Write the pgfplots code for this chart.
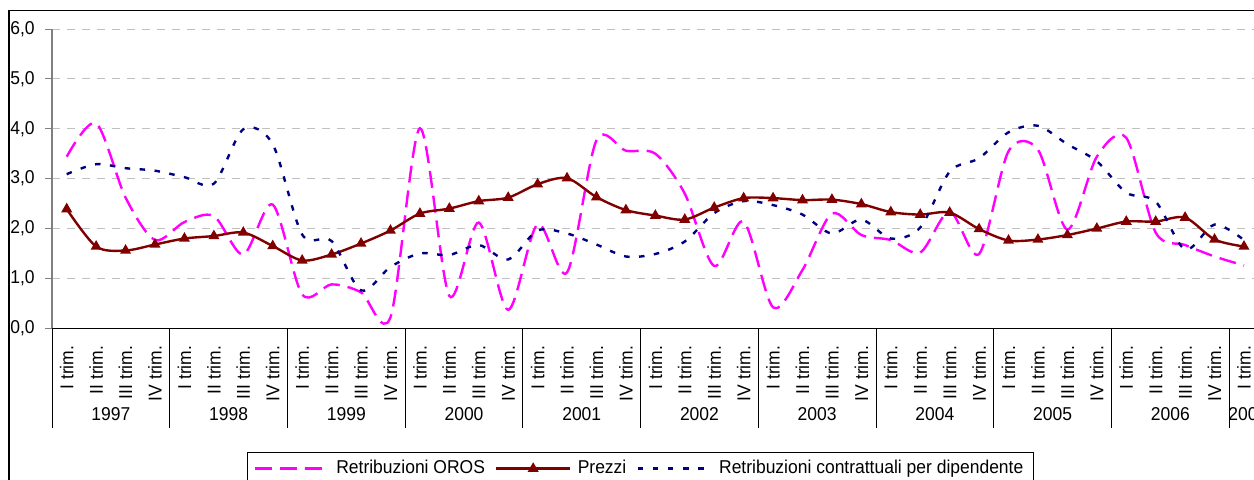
\documentclass[border=0pt]{standalone}
\usepackage{fontspec}
\setmainfont{Liberation Sans}[FakeStretch=0.94]
\usepackage{pgfplots}
\usepackage{pgfplotstable}
\pgfplotsset{compat=1.18}
\definecolor{oros}{RGB}{255,0,255}
\definecolor{prezzi}{RGB}{128,0,0}
\definecolor{contr}{RGB}{0,0,128}
\definecolor{gridgray}{RGB}{192,192,192}
\newcommand\chfont{\fontsize{9.3pt}{10.5pt}\selectfont}
\pgfplotstableread{
x oros prezzi contr
0 3.44 2.39 3.09
1 4.11 1.64 3.29
2 2.62 1.56 3.21
3 1.77 1.68 3.16
4 2.13 1.80 3.03
5 2.25 1.85 2.90
6 1.48 1.92 3.99
7 2.48 1.65 3.69
8 0.68 1.36 1.88
9 0.88 1.48 1.75
10 0.72 1.70 0.76
11 0.22 1.96 1.23
12 4.01 2.30 1.50
13 0.65 2.40 1.47
14 2.12 2.55 1.67
15 0.37 2.62 1.38
16 2.09 2.89 1.96
17 1.12 3.01 1.90
18 3.77 2.63 1.68
19 3.56 2.37 1.44
20 3.50 2.26 1.49
21 2.70 2.18 1.74
22 1.25 2.42 2.31
23 2.14 2.61 2.55
24 0.42 2.61 2.47
25 1.17 2.57 2.28
26 2.30 2.58 1.90
27 1.87 2.49 2.18
28 1.77 2.33 1.80
29 1.52 2.28 2.02
30 2.34 2.32 3.14
31 1.49 1.99 3.41
32 3.55 1.76 3.93
33 3.58 1.78 4.06
34 1.98 1.87 3.69
35 3.44 2.00 3.35
36 3.82 2.14 2.72
37 1.92 2.14 2.54
38 1.67 2.22 1.58
39 1.44 1.78 2.08
40 1.26 1.64 1.77
}\data
\begin{document}
\begin{tikzpicture}
\useasboundingbox (0pt,0pt) rectangle (627pt,239.5pt);
\clip (0pt,0pt) rectangle (627pt,239.5pt);
\begin{axis}[
  at={(26pt,75.35pt)}, anchor=south west,
  scale only axis, width=603.35pt, height=149.65pt,
  xmin=-0.5, xmax=40.5, ymin=0, ymax=6,
  axis lines=left, axis line style={-},
  x axis line style={black, line width=0.6pt},
  y axis line style={gray, line width=0.6pt},
  ytick={0,1,2,3,4,5,6},
  yticklabels={{0,0},{1,0},{2,0},{3,0},{4,0},{5,0},{6,0}},
  tick align=outside, major tick length=3.5pt,
  ytick style={gray, line width=0.5pt},
  xtick style={draw=none},
  ymajorgrids, grid style={gridgray, dash pattern=on 4pt off 3.5pt, line width=0.5pt},
  xtick={0,...,40},
  xticklabels={I trim.,II trim.,III trim.,IV trim.,I trim.,II trim.,III trim.,IV trim.,I trim.,II trim.,III trim.,IV trim.,I trim.,II trim.,III trim.,IV trim.,I trim.,II trim.,III trim.,IV trim.,I trim.,II trim.,III trim.,IV trim.,I trim.,II trim.,III trim.,IV trim.,I trim.,II trim.,III trim.,IV trim.,I trim.,II trim.,III trim.,IV trim.,I trim.,II trim.,III trim.,IV trim.,I trim.},
  xticklabel style={rotate=90, anchor=east, inner sep=0pt, font=\chfont},
  xticklabel shift=5pt,
  yticklabel style={anchor=east, inner sep=0pt, font=\chfont},
  yticklabel shift=5pt,
  legend image code/.code={\draw[mark repeat=2,mark phase=2,#1] plot coordinates {(0pt,0pt) (18.5pt,0pt) (37pt,0pt)};},
  legend style={at={(axis description cs:0.1616,-0.413)}, anchor=north west,
    draw=black, line width=0.5pt, font=\chfont, legend columns=3,
    inner xsep=3pt, inner ysep=2pt,
    /tikz/every even column/.append style={column sep=3pt},
    /tikz/every odd column/.append style={column sep=1.2pt}},
]
\addplot[oros, line width=1.2pt, dash pattern=on 8.5pt off 4pt, smooth, tension=0.5] table[x=x,y=oros]{\data};
\addlegendentry{Retribuzioni OROS}
\addplot[prezzi, line width=1.2pt, smooth, tension=0.5, mark=triangle*, mark size=2pt, mark options={solid, fill=prezzi}] table[x=x,y=prezzi]{\data};
\addlegendentry{Prezzi}
\addplot[contr, line width=1.2pt, dash pattern=on 2.75pt off 4.75pt, smooth, tension=0.5] table[x=x,y=contr]{\data};
\addlegendentry{Retribuzioni contrattuali per dipendente}
\end{axis}
\foreach \k in {0,...,10} {\draw[black, line width=0.5pt] ({(52+117.72*\k)*0.5pt},75.35pt) -- ++(0,-50pt);}
\foreach \k/\yr in {0/1997,1/1998,2/1999,3/2000,4/2001,5/2002,6/2003,7/2004,8/2005,9/2006} {\node[font=\chfont, inner sep=0pt] at ({(52+117.72*\k+58.86)*0.5pt},32.5pt) {\yr};}
\node[font=\chfont, inner sep=0pt, anchor=west] at (614pt,32.5pt) {2007};
\draw[black, line width=0.7pt] (4.5pt,-5pt) -- (4.5pt,234.25pt) -- (640pt,234.25pt);
\end{tikzpicture}
\end{document}
